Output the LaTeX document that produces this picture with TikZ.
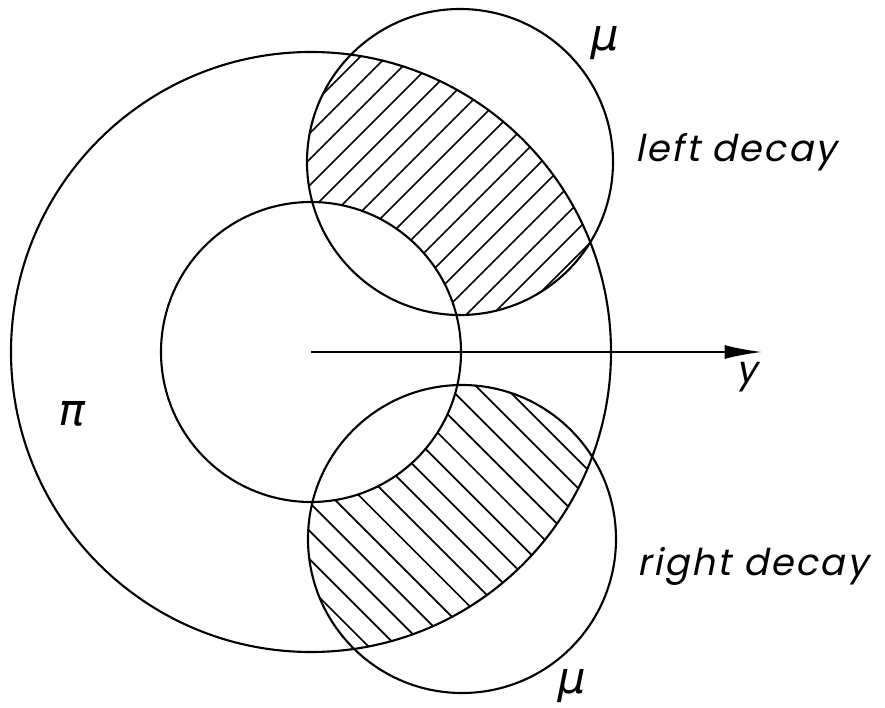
\documentclass[tikz,border=0pt]{standalone}
\usepackage{fontspec}
\usepackage{tikz}
\usetikzlibrary{arrows.meta,calc}
\newfontfamily\letterfont[FakeSlant=0.2, LetterSpace=6]{Poppins}
\newfontfamily\greekfont[FakeSlant=0.2]{DejaVu Sans}
\tikzset{
  ring/.style={draw, line width=1.2pt},
  hatch/.style={line width=1pt},
  arrow/.style={-{Latex[length=7.5mm, width=2.8mm]}, line width=1.2pt},
  lbl/.style={font=\letterfont\fontsize{21}{25}\selectfont, inner sep=0pt},
  glbl/.style={font=\greekfont\fontsize{25}{30}\selectfont, inner sep=0pt}
}

\begin{document}
\begin{tikzpicture}[x=0.2mm, y=0.2mm]
  \useasboundingbox (-311,-355) rectangle (574,352);
  \coordinate (pion) at (0,0);
  \coordinate (muleft) at (149,190);
  \coordinate (muright) at (151,-187);
  \coordinate (tip) at (451,0);

  % hatched part of the left decay
  \begin{scope}[even odd rule]
    \clip (muleft) circle (153);
    \clip (pion) circle (300) (pion) circle (150);
    \foreach \k in {0,...,16} {
      \pgfmathsetmacro\d{-246+26*\k}
      \draw[hatch] (-200,{-200-\d}) -- (700,{700-\d});
    }
  \end{scope}

  % hatched part of the right decay
  \begin{scope}[even odd rule]
    \clip (muright) circle (154);
    \clip (pion) circle (300) (pion) circle (150);
    \foreach \k in {0,...,14} {
      \pgfmathsetmacro\e{-237+28.3*\k}
      \draw[hatch] (-300,{\e+300}) -- (600,{\e-600});
    }
  \end{scope}

  \draw[ring] (pion) circle (300);
  \draw[ring] (pion) circle (150);
  \draw[ring] (muleft) circle (153);
  \draw[ring] (muright) circle (154);

  \draw[arrow] (pion) -- (tip);

  \node[lbl, anchor=base] (ylabel) at (436,-30) {y};
  \node[lbl, anchor=base west] (leftdecay) at (324,190) {left decay};
  \node[lbl, anchor=base west] (rightdecay) at (326,-223) {right decay};
  \node[glbl] (pilabel) at (-241,-62) {π};
  \node[glbl] (mutop) at (291,309) {μ};
  \node[glbl] (mubottom) at (258,-334) {μ};
\end{tikzpicture}
\end{document}
